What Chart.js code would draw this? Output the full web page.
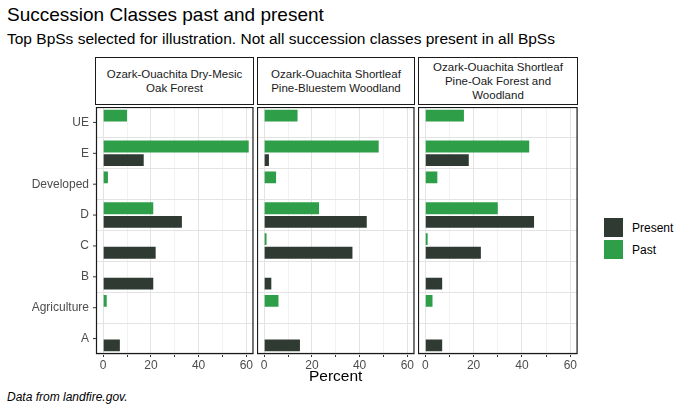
<!DOCTYPE html>
<html><head><meta charset="utf-8">
<script src="https://cdn.jsdelivr.net/npm/chart.js@4"></script>
<style>
body{margin:0;width:693px;height:412px;position:relative;font-family:"Liberation Sans",Arial,sans-serif;background:#fff;overflow:hidden}
.t{position:absolute;white-space:nowrap;color:#000}
.strip{position:absolute;top:57px;height:48px;border:1px solid #1a1a1a;background:#fff;display:flex;align-items:center;justify-content:center;text-align:center;font-size:11.5px;color:#1a1a1a;line-height:14px;box-sizing:border-box}
canvas{position:absolute}
.sw{position:absolute;width:19px;height:19px}
</style></head><body>
<div class="t" style="left:7px;top:4px;font-size:19px">Succession Classes past and present</div>
<div class="t" style="left:7px;top:30px;font-size:15.5px">Top BpSs selected for illustration. Not all succession classes present in all BpSs</div>
<div class="strip" style="left:95px;width:159px">Ozark-Ouachita Dry-Mesic<br>Oak Forest</div>
<div class="strip" style="left:257px;width:158px">Ozark-Ouachita Shortleaf<br>Pine-Bluestem Woodland</div>
<div class="strip" style="left:418px;width:160px">Ozark-Ouachita Shortleaf<br>Pine-Oak Forest and<br>Woodland</div>
<div style="position:absolute;left:0;top:107px;width:254px;height:265px"><canvas id="c1"></canvas></div>
<div style="position:absolute;left:257px;top:107px;width:158px;height:265px"><canvas id="c2"></canvas></div>
<div style="position:absolute;left:418px;top:107px;width:160px;height:265px"><canvas id="c3"></canvas></div>
<div class="t" style="left:309px;top:367px;font-size:15.5px">Percent</div>
<div class="t" style="left:7px;top:390px;font-size:12px;font-style:italic">Data from landfire.gov.</div>
<div class="sw" style="left:604px;top:218px;background:#2f3a33"></div>
<div class="sw" style="left:604px;top:240px;background:#2e9e48"></div>
<div class="t" style="left:632px;top:221px;font-size:12px">Present</div>
<div class="t" style="left:632px;top:243px;font-size:12px">Past</div>
<script>
const categories=["UE","E","Developed","D","C","B","Agriculture","A"];
const past1=[10,61,2,21,null,null,1.5,null];
const present1=[null,17,null,33,22,21,null,7];
const past2=[14,48,5,23,1,null,6,null];
const present2=[null,2,null,43,37,3,null,15];
const past3=[16,43,5,30,1,null,3,null];
const present3=[null,18,null,45,23,7,null,7];
const xTicks=[0,20,40,60];
const border={id:'bd',afterDraw(c){const a=c.chartArea,x=c.ctx;x.save();x.strokeStyle='#1a1a1a';x.lineWidth=1.2;x.strokeRect(a.left+0.5,a.top+0.5,a.right-a.left-1,a.bottom-a.top-1);x.restore();}};
const ylab={id:'yl',afterDraw(c){const s=c.scales.y,x=c.ctx,a=c.chartArea;x.save();x.fillStyle='#4d4d4d';x.font='12px "Liberation Sans"';x.textAlign='right';x.textBaseline='middle';x.strokeStyle='#333';
 categories.forEach((l,i)=>{const p=s.getPixelForValue(i);x.fillText(l,a.left-7,p);x.beginPath();x.moveTo(a.left-3,p);x.lineTo(a.left,p);x.stroke();});x.restore();}};
function mk(id,past,present,first){
 new Chart(document.getElementById(id),{type:'bar',
 data:{labels:categories,datasets:[
  {label:'Past',data:past,backgroundColor:'#2e9e48',barPercentage:0.88,categoryPercentage:0.88},
  {label:'Present',data:present,backgroundColor:'#2f3a33',barPercentage:0.88,categoryPercentage:0.88}]},
 options:{indexAxis:'y',responsive:true,maintainAspectRatio:false,animation:false,
  layout:{padding:0},
  plugins:{legend:{display:false},tooltip:{enabled:false}},
  scales:{
   x:{min:-3,max:63,afterBuildTicks(s){s.ticks=[0,10,20,30,40,50,60].map(v=>({value:v}));},
      afterFit(s){s.height=18;},
      grid:{color:c=>c.tick&&c.tick.value%20===0?'#e3e3e3':'#f2f2f2',tickColor:'#333',tickLength:3,lineWidth:1},
      border:{display:false},
      ticks:{padding:1,color:'#4d4d4d',font:{size:12,family:'Liberation Sans'},maxRotation:0,autoSkip:false,
        callback:v=>xTicks.includes(v)?String(v):''}},
   y:{afterFit(s){s.width=first?96:0;},border:{display:false},
      grid:{color:'#e3e3e3',drawTicks:false},
      ticks:{display:false}}}},
 plugins:first?[border,ylab]:[border]});
}
mk('c1',past1,present1,true);
mk('c2',past2,present2,false);
mk('c3',past3,present3,false);
</script></body></html>
